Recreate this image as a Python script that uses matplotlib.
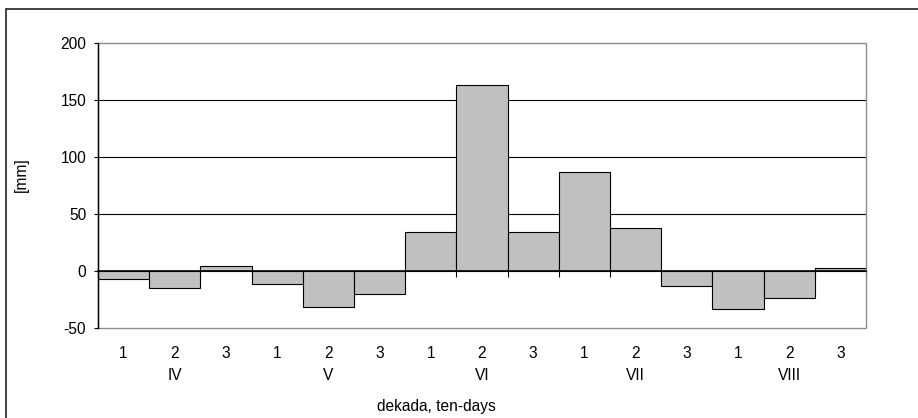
import matplotlib
matplotlib.use("Agg")
import matplotlib.pyplot as plt
from matplotlib.patches import Rectangle
from matplotlib.transforms import blended_transform_factory

plt.rcParams['font.family'] = ['Liberation Sans', 'DejaVu Sans']
FS = 11.2
plt.rcParams['font.size'] = FS

# precipitation deviation per ten-day period [mm]
months = ["IV", "V", "VI", "VII", "VIII"]
decades = ["1", "2", "3"]
values = [-7, -15, 4, -11, -32, -20, 34, 163, 34, 87, 38, -13, -33, -24, 3]
yticks = [-50, 0, 50, 100, 150, 200]

W, H = 918, 418
fig = plt.figure(figsize=(W / 100, H / 100), dpi=100)

# outer chart frame (extends past the right and bottom edges)
fig.patches.append(Rectangle((6 / W, -0.1), 1.2, 1 - 9.5 / H + 0.1,
                             transform=fig.transFigure, fill=False,
                             edgecolor="#222222", linewidth=1.2))

ax = fig.add_axes([98 / W, 1 - 328 / H, (866 - 98) / W, (328 - 43) / H])

x = list(range(len(values)))
ax.bar(x, values, width=1.0, color="#C0C0C0", edgecolor="black",
       linewidth=0.8, zorder=3)

ax.set_xlim(-0.5, len(values) - 0.5)
ax.set_ylim(yticks[0], yticks[-1])

# gridlines
for v in yticks[1:-1]:
    if v != 0:
        ax.axhline(v, color="black", linewidth=0.8, zorder=1)

# plot area frame
ax.add_patch(Rectangle((0, 0), 1, 1, transform=ax.transAxes, fill=False,
                       edgecolor="#8c8c8c", linewidth=1.0, zorder=2,
                       clip_on=False))
for s in ["top", "right"]:
    ax.spines[s].set_visible(False)
ax.spines["left"].set_color("black")
ax.spines["left"].set_linewidth(1.0)
ax.spines["left"].set_zorder(5)

# category axis crossing at zero
ax.spines["bottom"].set_position(("data", 0))
ax.spines["bottom"].set_color("black")
ax.spines["bottom"].set_linewidth(1.2)
ax.spines["bottom"].set_zorder(5)
bounds = [i - 0.5 for i in range(len(values) + 1)]
ax.set_xticks(bounds)
ax.set_xticklabels([])
ax.tick_params(axis="x", direction="out", length=4, width=0.8, color="black")

ax.set_yticks(yticks)
ax.set_yticklabels([str(v) for v in yticks])
ax.tick_params(axis="y", direction="out", length=3, width=0.8, pad=5.5,
               color="black", labelsize=FS)

trans = blended_transform_factory(ax.transData, ax.transAxes)
for i in x:
    ax.text(i, -25 / 285, decades[i % 3], transform=trans,
            ha="center", va="center", fontsize=FS)
for m, name in enumerate(months):
    ax.text(3 * m + 1, -48 / 285, name, transform=trans,
            ha="center", va="center", fontsize=FS)

fig.text(436 / W, 1 - 407 / H, "dekada, ten-days", ha="center",
         va="center", fontsize=FS)
fig.text(21 / W, 1 - 175 / H, "[mm]", ha="center", va="center",
         rotation=90, fontsize=FS)

fig.savefig("out.png", dpi=100, facecolor="white")
